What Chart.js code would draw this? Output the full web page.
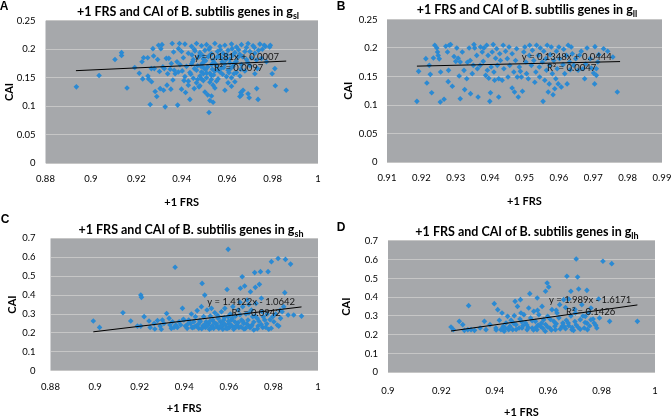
<!DOCTYPE html>
<html><head><meta charset="utf-8">
<script src="https://cdn.jsdelivr.net/npm/chart.js@4/dist/chart.umd.min.js"></script>
<style>
html,body{margin:0;padding:0;background:#fff;}
#wrap{position:relative;width:671px;height:417px;overflow:hidden;font-family:Lato,'Open Sans',sans-serif;color:#000;}
canvas{position:absolute;}
.ttl{position:absolute;font-weight:bold;font-size:12.5px;white-space:nowrap;transform:translate(-50%,-50%);line-height:1;}
.ttl sub{font-size:9px;vertical-align:-3px;line-height:0;}
.lbl{position:absolute;font-family:'Liberation Sans',Arial,sans-serif;font-weight:bold;font-size:12px;transform:translate(-50%,-50%);line-height:1;}
</style></head><body>
<div id="wrap">
<canvas id="cA" width="335" height="210" style="left:0px;top:0px"></canvas>
<canvas id="cB" width="336" height="210" style="left:335px;top:0px"></canvas>
<canvas id="cC" width="335" height="212" style="left:0px;top:205px"></canvas>
<canvas id="cD" width="336" height="212" style="left:335px;top:205px"></canvas>
<div class="lbl" style="left:4px;top:6px">A</div>
<div class="lbl" style="left:341px;top:6px">B</div>
<div class="lbl" style="left:5px;top:219px">C</div>
<div class="lbl" style="left:341px;top:227px">D</div>
<div class="ttl" style="left:188px;top:12px">+1 FRS and CAI of B. subtilis genes in g<sub>sl</sub></div>
<div class="ttl" style="left:527px;top:10px">+1 FRS and CAI of B. subtilis genes in g<sub>ll</sub></div>
<div class="ttl" style="left:191px;top:230px">+1 FRS and CAI of B. subtilis genes in g<sub>sh</sub></div>
<div class="ttl" style="left:527px;top:232px">+1 FRS and CAI of B. subtilis genes in g<sub>lh</sub></div>
</div>
<script>
// ---------- DATA ----------
const xTicksA = [0.88,0.9,0.92,0.94,0.96,0.98,1];
const yTicksA = [0,0.05,0.1,0.15,0.2,0.25];
const xTicksB = [0.91,0.92,0.93,0.94,0.95,0.96,0.97,0.98,0.99];
const yTicksB = [0,0.05,0.1,0.15,0.2,0.25];
const xTicksC = [0.88,0.9,0.92,0.94,0.96,0.98,1];
const yTicksC = [0,0.1,0.2,0.3,0.4,0.5,0.6,0.7];
const xTicksD = [0.9,0.92,0.94,0.96,0.98,1];
const yTicksD = [0,0.1,0.2,0.3,0.4,0.5,0.6,0.7];

const xTitle = '+1 FRS';
const yTitle = 'CAI';

const eqA = ['y = 0.181x + 0.0007','R² = 0.0097'];
const eqB = ['y = 0.1348x + 0.0444','R² = 0.0047'];
const eqC = ['y = 1.4122x - 1.0642','R² = 0.0942'];
const eqD = ['y = 1.989x - 1.6171','R² = 0.1426'];

const trendA = [[0.8934,0.1624],[0.9860,0.1792]];
const trendB = [[0.9187,0.1682],[0.9778,0.1762]];
const trendC = [[0.8992,0.2057],[0.9926,0.3375]];
const trendD = [[0.9236,0.2200],[0.9934,0.3588]];

const pointsA = [
[0.8936,0.134],[0.9036,0.154],[0.9106,0.182],[0.9135,0.194],[0.9135,0.189],[0.9159,0.132],[0.9193,0.168],[0.9213,0.158],[0.9225,0.178],[0.9228,0.148],
[0.9232,0.185],[0.925,0.185],[0.9251,0.153],[0.9254,0.148],[0.9261,0.103],[0.9266,0.166],[0.9267,0.143],[0.9273,0.201],[0.9276,0.188],[0.9279,0.166],
[0.9283,0.126],[0.929,0.117],[0.9294,0.182],[0.9298,0.207],[0.9302,0.161],[0.9305,0.131],[0.9308,0.201],[0.9313,0.208],[0.9317,0.169],[0.932,0.128],
[0.9323,0.166],[0.9327,0.099],[0.9332,0.184],[0.9335,0.137],[0.9338,0.157],[0.9343,0.184],[0.9349,0.165],[0.9352,0.130],[0.9354,0.175],[0.9358,0.210],
[0.9361,0.146],[0.9364,0.195],[0.9367,0.163],[0.9371,0.157],[0.9379,0.178],[0.9382,0.102],[0.9386,0.201],[0.939,0.210],
[0.9399,0.130],[0.9385,0.160],[0.941,0.145],[0.9417,0.124],[0.9436,0.112],[0.9429,0.137],[0.9455,0.131],[0.947,0.147],[0.9476,0.134],[0.9487,0.148],
[0.9502,0.125],[0.9514,0.120],[0.9524,0.110],[0.9531,0.118],[0.952,0.089],[0.9538,0.107],[0.9546,0.132],[0.959,0.128],[0.9656,0.117],[0.966,0.124],
[0.9663,0.120],[0.967,0.128],[0.9692,0.122],[0.9697,0.115],[0.973,0.131],[0.9736,0.112],[0.9722,0.157],[0.9729,0.181],[0.9733,0.166],[0.9751,0.184],
[0.9763,0.207],[0.9773,0.178],[0.9787,0.204],[0.9812,0.136],[0.979,0.207],[0.981,0.166],[0.986,0.128],[0.9798,0.157],
[0.9414,0.209],[0.9443,0.205],[0.9465,0.210],[0.9487,0.206],[0.9509,0.208],[0.9524,0.203],[0.9546,0.210],[0.9568,0.205],[0.9590,0.207],[0.9619,0.209],
[0.9641,0.204],[0.9663,0.208],[0.9692,0.210],[0.9714,0.206],[0.9744,0.209],[0.9768,0.205],
[0.9399,0.196],[0.9429,0.193],[0.9458,0.197],[0.948,0.194],[0.9502,0.198],[0.9531,0.192],[0.9557,0.196],[0.9582,0.193],[0.9604,0.198],[0.9634,0.194],[0.9678,0.196],[0.9722,0.193],
[0.9407,0.185],[0.9451,0.182],[0.9473,0.186],[0.9495,0.183],[0.9517,0.187],[0.9538,0.181],[0.9575,0.185],[0.9612,0.183],[0.9648,0.186],[0.9685,0.182],[0.9707,0.185],
[0.9392,0.173],[0.9421,0.170],[0.9443,0.174],[0.947,0.171],[0.949,0.175],[0.9514,0.169],[0.9531,0.173],[0.9553,0.171],[0.959,0.174],[0.9626,0.170],[0.9663,0.173],[0.970,0.171],
[0.9402,0.162],[0.9436,0.159],[0.9465,0.163],[0.9487,0.160],[0.9505,0.164],[0.9524,0.158],[0.9546,0.162],[0.9568,0.160],[0.9604,0.163],[0.9641,0.159],[0.9678,0.162],
[0.9414,0.152],[0.9451,0.149],[0.948,0.153],[0.9509,0.150],[0.9531,0.154],[0.956,0.148],[0.9597,0.152],[0.9619,0.150],[0.9656,0.153],
[0.9429,0.144],[0.9465,0.141],[0.9495,0.145],[0.9524,0.142],[0.9553,0.144],[0.9604,0.141],[0.9634,0.143],
[0.948,0.136],[0.9538,0.137],[0.9619,0.135],
[0.9445,0.190],[0.9492,0.189],[0.9528,0.191],[0.9562,0.188],[0.9598,0.190],[0.9625,0.189],[0.9655,0.191],
[0.9448,0.178],[0.9500,0.179],[0.9541,0.177],[0.9578,0.178],[0.9612,0.176],[0.9640,0.179],[0.9690,0.177],
[0.9456,0.166],[0.9497,0.167],[0.9535,0.165],[0.9575,0.167],[0.9615,0.166],[0.9660,0.165],
[0.9440,0.156],[0.9495,0.157],[0.9540,0.155],[0.9580,0.156],[0.9630,0.157],
[0.9455,0.200],[0.9478,0.189],[0.9505,0.180],[0.9520,0.200],[0.9548,0.174],[0.9555,0.186],[0.9570,0.199],[0.9585,0.168],[0.9595,0.182],[0.9608,0.159],
[0.9622,0.201],[0.9630,0.175],[0.9650,0.199],[0.9668,0.187],[0.9685,0.203],[0.9700,0.196],[0.9720,0.203],[0.9738,0.198],[0.9755,0.200],[0.9510,0.158],
[0.9560,0.164],[0.9485,0.170],[0.9530,0.147]
];

const pointsB = [
[0.9187,0.1064],[0.9192,0.159],[0.9213,0.1813],[0.9216,0.1386],[0.9223,0.1696],[0.9226,0.1538],[0.923,0.1216],[0.9235,0.1825],[0.9239,0.2047],[0.9245,0.200],
[0.9247,0.193],[0.9249,0.187],[0.9252,0.181],[0.9255,0.1053],[0.9256,0.158],[0.9266,0.110],[0.9271,0.203],[0.9276,0.193],[0.9278,0.141],[0.9279,0.1608],
[0.9281,0.2047],[0.9285,0.206],[0.929,0.133],[0.9295,0.185],[0.930,0.1766],[0.9303,0.200],[0.9307,0.182],[0.931,0.151],[0.9313,0.1755],[0.9313,0.111],
[0.9319,0.193],[0.9324,0.1608],[0.9326,0.127],[0.9332,0.146],[0.9334,0.175],[0.9339,0.200],[0.9342,0.178],[0.9343,0.1199],[0.9348,0.155],[0.9351,0.1696],
[0.9353,0.206],[0.9355,0.200],[0.9361,0.187],[0.9363,0.1637],[0.9365,0.114],[0.9371,0.1696],[0.9372,0.2018],[0.9377,0.193],[0.938,0.1766],[0.9382,0.200],
[0.9387,0.152],[0.939,0.2047],[0.9392,0.161],[0.9394,0.187],[0.9396,0.147],[0.9399,0.1064],[0.9401,0.1216],[0.9403,0.1667],[0.9406,0.193],[0.9409,0.206],
[0.9411,0.158],[0.9413,0.1433],[0.9416,0.182],[0.9419,0.1988],[0.9421,0.1696],[0.9425,0.146],[0.9425,0.114],[0.9428,0.190],[0.943,0.178],[0.9435,0.1433],
[0.9438,0.2047],[0.944,0.1637],[0.9445,0.1942],[0.945,0.1813],[0.9452,0.149],[0.9455,0.2018],[0.9457,0.1696],[0.9464,0.190],[0.9464,0.1298],[0.9469,0.158],
[0.9471,0.1228],[0.9474,0.178],[0.9477,0.1988],[0.9479,0.149],
[0.9482,0.114],[0.9485,0.1667],[0.9488,0.159],[0.9491,0.149],[0.9494,0.124],[0.9498,0.193],[0.9501,0.2018],[0.9504,0.1755],[0.9506,0.155],[0.9511,0.146],
[0.9514,0.187],[0.9515,0.2047],[0.952,0.1696],[0.9523,0.196],[0.9527,0.178],[0.953,0.140],[0.9533,0.158],[0.9535,0.2047],[0.954,0.187],[0.9543,0.1667],
[0.9544,0.149],[0.9546,0.200],[0.9552,0.1755],[0.9554,0.1064],[0.9556,0.1942],[0.9559,0.1433],[0.9562,0.1813],[0.9564,0.161],[0.9566,0.2047],[0.9569,0.1228],
[0.9572,0.137],[0.9573,0.1696],[0.9575,0.1883],[0.9578,0.2018],[0.9581,0.155],[0.9583,0.118],[0.9585,0.178],[0.9588,0.1286],[0.9591,0.146],[0.9593,0.1942],
[0.9595,0.1637],[0.9598,0.137],[0.960,0.2018],[0.9602,0.1813],[0.9607,0.1316],[0.9612,0.1708],[0.9614,0.1977],[0.9617,0.155],[0.9622,0.1872],[0.9624,0.137],
[0.9627,0.2047],[0.9631,0.1755],[0.9633,0.162],[0.9636,0.2018],[0.9639,0.190],[0.9643,0.1696],[0.9649,0.1813],[0.9656,0.161],[0.966,0.1872],[0.9665,0.1942],
[0.967,0.1637],[0.9675,0.146],[0.9678,0.172],[0.9682,0.200],[0.9691,0.1813],[0.9694,0.165],[0.9701,0.156],[0.9704,0.137],[0.9705,0.2024],[0.9709,0.152],
[0.9709,0.1637],[0.9713,0.1755],[0.9716,0.1883],[0.973,0.1988],[0.9742,0.1942],[0.9757,0.1842],[0.977,0.1228]
];

const pointsC = [
[0.8992,0.263],[0.902,0.229],[0.9125,0.307],[0.916,0.263],[0.919,0.236],[0.9205,0.4005],[0.9208,0.388],[0.9205,0.236],[0.922,0.286],[0.9242,0.263],
[0.9247,0.229],[0.9265,0.250],[0.9268,0.221],[0.928,0.265],[0.9292,0.236],[0.9297,0.219],[0.9302,0.268],[0.9309,0.250],[0.9321,0.303],[0.9332,0.277],
[0.9336,0.242],[0.9342,0.224],[0.9347,0.259],[0.9354,0.229],[0.9359,0.547],[0.9362,0.242],[0.9369,0.229],[0.9377,0.259],[0.9384,0.242],[0.9392,0.330],[0.9396,0.272],
[0.9597,0.642],[0.9398,0.268],[0.9405,0.236],[0.9413,0.224],[0.942,0.268],[0.9428,0.250],[0.9432,0.300],[0.9435,0.229],[0.9443,0.259],[0.945,0.286],
[0.9453,0.236],[0.9458,0.318],[0.9465,0.224],[0.9472,0.259],[0.9477,0.339],[0.948,0.462],[0.9483,0.236],[0.9487,0.286],[0.9492,0.400],[0.9495,0.229],
[0.9498,0.259],[0.9502,0.321],[0.951,0.250],[0.9513,0.219],[0.9517,0.289],[0.9522,0.330],[0.9525,0.236],[0.9528,0.268],[0.9532,0.224],[0.9537,0.307],
[0.954,0.250],[0.9547,0.233],[0.9552,0.277],[0.9555,0.224],[0.9562,0.259],[0.9567,0.312],[0.957,0.236],[0.9573,0.219],[0.9577,0.268],[0.9582,0.330],
[0.9585,0.242],[0.9588,0.224],[0.9592,0.430],[0.9597,0.286],[0.960,0.250],[0.9603,0.229],[0.9607,0.300],[0.9612,0.268],[0.9615,0.236],[0.9618,0.339],
[0.9622,0.219],[0.9627,0.259],[0.963,0.289],[0.9637,0.242],[0.9642,0.321],[0.9645,0.229],[0.9652,0.436],[0.9657,0.268],[0.966,0.497],[0.9662,0.339],
[0.9667,0.250],[0.9671,0.448],[0.9675,0.224],[0.9677,0.300],[0.9682,0.374],[0.9686,0.268],[0.9689,0.236],[0.9697,0.418],[0.9701,0.321],[0.9704,0.242],
[0.9707,0.286],[0.9712,0.215],[0.9716,0.519],[0.9719,0.441],[0.9722,0.356],[0.9727,0.277],[0.9731,0.236],[0.9737,0.457],[0.9742,0.524],[0.9746,0.383],
[0.9749,0.312],[0.9752,0.229],[0.9761,0.268],[0.9772,0.300],[0.9776,0.524],[0.9779,0.219],[0.9791,0.577],[0.9797,0.286],[0.9802,0.259],[0.9817,0.242],
[0.9821,0.594],[0.9824,0.236],[0.9832,0.277],[0.9839,0.312],[0.9846,0.339],[0.9851,0.413],[0.9854,0.589],[0.9866,0.295],[0.9877,0.564],[0.9891,0.295],[0.9926,0.289],
[0.9445,0.232],[0.9462,0.245],[0.9478,0.222],[0.9505,0.238],[0.9521,0.226],[0.9545,0.247],[0.9558,0.231],[0.9575,0.252],[0.9595,0.224],[0.9608,0.243],
[0.9625,0.228],[0.9642,0.255],[0.9655,0.232],[0.9668,0.221],[0.9680,0.248],[0.9695,0.228],[0.9712,0.258],[0.9728,0.222],[0.9745,0.245],[0.9765,0.230],[0.979,0.225],
[0.9415,0.246],[0.9438,0.228],[0.9470,0.265],[0.9490,0.243],[0.9515,0.262],[0.9535,0.252],[0.9550,0.292],[0.9565,0.238],[0.9580,0.281],[0.9598,0.262],
[0.9615,0.277],[0.9632,0.232],[0.9650,0.296],[0.9663,0.262],[0.9690,0.305],[0.9700,0.235],[0.9718,0.290],[0.9735,0.262],[0.9755,0.285],[0.9770,0.248],
[0.9785,0.270],[0.9810,0.300],[0.9830,0.320],[0.9690,0.350],[0.9650,0.362]
];

const pointsD = [
[0.9236,0.2414],[0.9245,0.2272],[0.9267,0.2715],[0.928,0.2538],[0.9286,0.2236],[0.9302,0.355],[0.9299,0.2272],[0.9311,0.2272],[0.9324,0.2236],[0.9345,0.236],
[0.9361,0.2715],[0.9367,0.2272],[0.9382,0.2538],[0.9398,0.3657],[0.9404,0.236],[0.9411,0.3337],[0.9417,0.2769],[0.9423,0.2272],[0.9427,0.316],[0.9432,0.2449],
[0.9435,0.2183],[0.9442,0.2627],[0.9448,0.298],[0.9452,0.2272],[0.9457,0.2449],[0.9461,0.2769],[0.9467,0.2272],[0.9473,0.3018],[0.9476,0.378],[0.9479,0.2538],
[0.9485,0.351],[0.9491,0.236],[0.9494,0.284],[0.9498,0.316],
[0.9705,0.6037],[0.9805,0.5912],[0.9838,0.5788],[0.967,0.5113],[0.971,0.5078],[0.9596,0.4758],[0.9602,0.4545],[0.959,0.4314],[0.9531,0.419],[0.9559,0.396],
[0.9496,0.387],[0.9685,0.4314],[0.9714,0.4438],[0.9745,0.4367],[0.9677,0.3906],[0.9789,0.3906],[0.983,0.2715],[0.9934,0.2715],[0.9792,0.2893],[0.9782,0.236],
[0.9772,0.2627],[0.976,0.3426],[0.9739,0.298],[0.9751,0.316],[0.972,0.2804],[0.9702,0.316],[0.9689,0.2272],[0.9658,0.387],[0.9652,0.2449],[0.9643,0.3604],
[0.9633,0.316],[0.9627,0.2272],[0.9621,0.2715],[0.9614,0.3337],[0.9606,0.236],[0.9598,0.298],[0.9589,0.2183],[0.9583,0.2804],[0.9577,0.351],[0.9571,0.2449],
[0.9565,0.3071],[0.9558,0.2272],[0.9552,0.2715],[0.9546,0.3248],[0.954,0.236],[0.9534,0.2893],[0.9527,0.3426],[0.9521,0.2272],[0.9515,0.2627],[0.9509,0.3071],
[0.9502,0.236],[0.9668,0.2769],[0.9677,0.2484],[0.9735,0.236],[0.9747,0.2272],[0.9726,0.3604],[0.9695,0.2236],
[0.9405,0.226],[0.943,0.233],[0.9455,0.241],[0.948,0.228],[0.9505,0.248],[0.9525,0.238],[0.9545,0.226],[0.9562,0.252],[0.958,0.234],[0.9598,0.241],
[0.9612,0.226],[0.963,0.258],[0.9645,0.231],[0.966,0.244],[0.9675,0.262],[0.969,0.238],[0.9705,0.252],[0.972,0.229],[0.9738,0.265],[0.9755,0.247],[0.9768,0.284],
[0.9440,0.235],[0.9470,0.262],[0.9500,0.270],[0.9520,0.252],[0.9540,0.275],[0.9555,0.240],[0.9575,0.262],[0.9590,0.255],[0.9608,0.282],[0.9625,0.245],
[0.9640,0.290],[0.9655,0.262],[0.9665,0.232],[0.9685,0.300],[0.9700,0.270],[0.9712,0.240],[0.9730,0.300],[0.9745,0.262],[0.9760,0.280],[0.9778,0.250],
[0.9630,0.330],[0.9665,0.345],[0.9700,0.335],[0.9560,0.330]
];

// ---------- STYLE ----------
const FONT = "Lato, 'Open Sans', sans-serif";
const BLUE = '#2b8ad3';
const PLOT_BG = '#a6a8ab';
const GRID = '#c6c6c6';

function fmt(v){ return String(parseFloat(Number(v).toFixed(4))); }

const bgPlugin = {
  id:'plotbg',
  beforeDraw(c){
    const a=c.chartArea, ctx=c.ctx;
    ctx.save(); ctx.fillStyle=PLOT_BG;
    ctx.fillRect(a.left,a.top,a.right-a.left,a.bottom-a.top);
    ctx.restore();
  }
};

function eqPlugin(lines, pos){
  return {
    id:'eqtext',
    afterDatasetsDraw(c){
      const ctx=c.ctx, xs=c.scales.x, ys=c.scales.y;
      ctx.save();
      ctx.font = "9.5px " + FONT;
      ctx.fillStyle = '#151515';
      ctx.textAlign='center'; ctx.textBaseline='middle';
      lines.forEach((t,i)=>{
        ctx.fillText(t, xs.getPixelForValue(pos[i][0]), ys.getPixelForValue(pos[i][1]));
      });
      ctx.restore();
    }
  };
}

function panel(id, pts, trend, xt, yt, eq, eqPos, box){
  new Chart(document.getElementById(id), {
    type:'scatter',
    data:{datasets:[
      {data: trend.map(p=>({x:p[0],y:p[1]})), showLine:true, borderColor:'#000', borderWidth:1, pointRadius:0, order:1},
      {data: pts.map(p=>({x:p[0],y:p[1]})), pointStyle:'rectRot', pointRadius:2.8, pointBackgroundColor:BLUE, pointBorderWidth:0, order:2}
    ]},
    options:{
      responsive:false, animation:false, events:[],
      layout:{padding:{top:box.top,right:box.right,left:0,bottom:0}},
      plugins:{legend:{display:false}, tooltip:{enabled:false}},
      scales:{
        x:{type:'linear', min:xt[0], max:xt[xt.length-1],
           afterBuildTicks:s=>{s.ticks=xt.map(v=>({value:v}));},
           afterFit:s=>{s.height=box.xh; s.paddingLeft=0; s.paddingRight=0;},
           ticks:{callback:v=>fmt(v), color:'#000', font:{size:9.5,family:FONT}, padding:box.xtp, maxRotation:0, autoSkip:false},
           grid:{display:false}, border:{display:false},
           title:{display:true, text:xTitle, color:'#000', font:{size:11,weight:'bold',family:FONT,lineHeight:1}, padding:{top:0,bottom:box.xtt}}},
        y:{type:'linear', min:yt[0], max:yt[yt.length-1],
           afterBuildTicks:s=>{s.ticks=yt.map(v=>({value:v}));},
           afterFit:s=>{s.width=box.yw; s.paddingTop=0; s.paddingBottom=0;},
           ticks:{callback:v=>fmt(v), color:'#000', font:{size:9.5,family:FONT}, padding:box.ytp},
           grid:{color:GRID, lineWidth:1, drawTicks:false}, border:{display:false},
           title:{display:true, text:yTitle, color:'#000', font:{size:11,weight:'bold',family:FONT,lineHeight:1}, padding:{top:box.ytt,bottom:0}}}
      }
    },
    plugins:[bgPlugin, eqPlugin(eq, eqPos)]
  });
}

panel('cA', pointsA, trendA, xTicksA, yTicksA, eqA, [[0.9642,0.1864],[0.9650,0.1672]],
  {top:20.7, right:17, xh:46.7, yw:45.5, xtp:1.5, xtt:2.5, ytp:10, ytt:4});
panel('cB', pointsB, trendB, xTicksB, yTicksB, eqB, [[0.9623,0.184],[0.9637,0.165]],
  {top:19.5, right:9, xh:48, yw:52, xtp:1.8, xtt:3.5, ytp:9.5, ytt:8});
panel('cC', pointsC, trendC, xTicksC, yTicksC, eqC, [[0.970,0.365],[0.9722,0.304]],
  {top:33.4, right:17, xh:46.3, yw:50.5, xtp:3, xtt:2.8, ytp:15, ytt:6.5});
panel('cD', pointsD, trendD, xTicksD, yTicksD, eqD, [[0.9757,0.385],[0.9759,0.321]],
  {top:35.9, right:16, xh:44.7, yw:53, xtp:5, xtt:-1, ytp:10, ytt:5.5});
</script>
</body></html>
